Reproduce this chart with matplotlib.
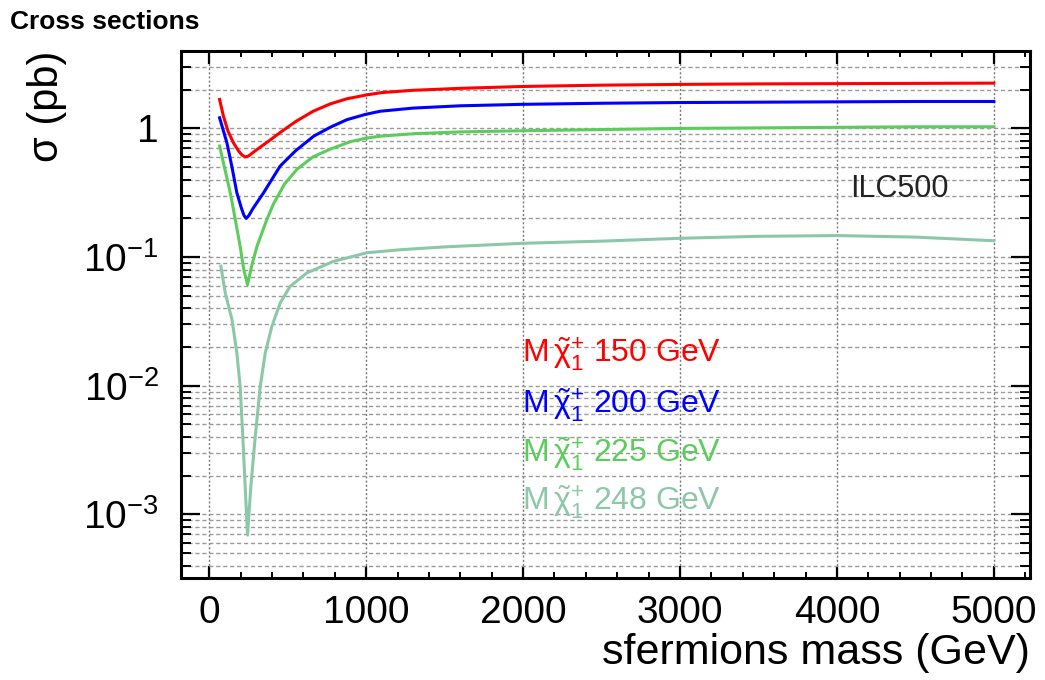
import matplotlib
matplotlib.use('Agg')
import matplotlib.pyplot as plt
from matplotlib.ticker import MultipleLocator, LogLocator, NullFormatter

plt.rcParams['font.family'] = ['Liberation Sans', 'DejaVu Sans']
plt.rcParams['mathtext.fontset'] = 'custom'
plt.rcParams['mathtext.rm'] = 'Liberation Sans'
plt.rcParams['mathtext.it'] = 'Liberation Sans:italic'
plt.rcParams['mathtext.bf'] = 'Liberation Sans:bold'

# ---- Data ----
mass_150 = [66, 90, 120, 155, 190, 210, 229, 250, 300, 380, 452, 550, 662, 770, 877,
            1000, 1100, 1300, 1600, 2000, 2500, 3000, 3500, 4000, 4500, 5000]
xsec_150 = [1.68, 1.25, 0.95, 0.77, 0.66, 0.62, 0.60, 0.61, 0.68, 0.80, 0.93, 1.13,
            1.36, 1.55, 1.70, 1.82, 1.90, 1.98, 2.05, 2.12, 2.17, 2.20, 2.22, 2.23,
            2.24, 2.25]

mass_200 = [66, 113, 145, 176, 205, 222, 236, 252, 280, 346, 452, 550, 665, 770, 877,
            1000, 1089, 1300, 1600, 2000, 2500, 3000, 3500, 4000, 4500, 5000]
xsec_200 = [1.21, 0.77, 0.50, 0.316, 0.24, 0.21, 0.20, 0.21, 0.24, 0.316, 0.51, 0.67,
            0.87, 1.02, 1.17, 1.29, 1.36, 1.44, 1.50, 1.54, 1.57, 1.59, 1.60, 1.61,
            1.62, 1.62]

mass_225 = [66, 100, 134, 166, 197, 220, 244, 270, 304, 367, 410, 480, 558, 660, 771,
            900, 1000, 1089, 1300, 1600, 2000, 2500, 3000, 3500, 4000, 4500, 5000]
xsec_225 = [0.73, 0.48, 0.316, 0.196, 0.121, 0.08, 0.061, 0.085, 0.121, 0.196, 0.26,
            0.37, 0.48, 0.60, 0.69, 0.79, 0.84, 0.87, 0.91, 0.94, 0.96, 0.98, 1.0,
            1.01, 1.02, 1.03, 1.03]

mass_248 = [74, 102, 145, 176, 197, 214, 229, 244, 265, 293, 325, 357, 399, 452, 516,
            622, 792, 1004, 1217, 1500, 2000, 2500, 3000, 3500, 4000, 4500, 5000]
xsec_248 = [0.085, 0.0526, 0.0326, 0.018, 0.0099, 0.0040, 0.00164, 0.00069, 0.00164,
            0.0040, 0.0099, 0.018, 0.0289, 0.044, 0.0593, 0.0753, 0.0927, 0.108,
            0.114, 0.12, 0.128, 0.133, 0.14, 0.145, 0.147, 0.143, 0.134]

series = [
    (mass_150, xsec_150, '150', '#ff0000'),
    (mass_200, xsec_200, '200', '#0000ff'),
    (mass_225, xsec_225, '225', '#5ccc5c'),
    (mass_248, xsec_248, '248', '#8cc8a8'),
]

# ---- Figure ----
fig = plt.figure(figsize=(10.45, 6.8), dpi=100)
ax = fig.add_axes([0.1732, 0.15, 0.8124, 0.775])
ax.set_xlim(-180, 5230)
ax.set_yscale('log')
ax.set_ylim(3.2e-4, 4.0)

for m, s, lab, col in series:
    ax.plot(m, s, color=col, lw=2.2, zorder=3, solid_joinstyle='round')

# grid: horizontal at every log tick, vertical at majors
ax.set_axisbelow(True)
ax.yaxis.set_minor_locator(LogLocator(base=10, subs=range(2, 10), numticks=20))
ax.yaxis.set_minor_formatter(NullFormatter())
ax.set_yticks([1e-3, 1e-2, 1e-1, 1])
ax.set_yticklabels([r'$10^{-3}$', r'$10^{-2}$', r'$10^{-1}$', '1'])
ax.xaxis.set_major_locator(MultipleLocator(1000))
ax.xaxis.set_minor_locator(MultipleLocator(200))

ax.grid(which='both', axis='y', color='#9a9a9a', lw=1.0, ls=(0, (3, 2)))
ax.grid(which='major', axis='x', color='#777777', lw=1.0, ls=(0, (1.5, 1.5)))

ax.tick_params(which='both', direction='in', top=True, right=True, labelsize=28)
ax.tick_params(axis='y', which='major', length=14, width=1.6, pad=16)
ax.tick_params(axis='y', which='minor', length=7, width=1.4)
ax.tick_params(axis='x', which='major', length=9, width=1.6, pad=12)
ax.tick_params(axis='x', which='minor', length=4.5, width=1.4)
for sp in ax.spines.values():
    sp.set_linewidth(2.2)

ax.set_xlabel('sfermions mass (GeV)', fontsize=31, ha='right', x=1.0, labelpad=2)
ax.set_ylabel('σ (pb)', fontsize=30, ha='right', y=1.0, labelpad=12)

# legend-like labels
ys = [0.408, 0.313, 0.220, 0.129]
for (m, s, lab, col), yy in zip(series, ys):
    ax.text(0.4017, yy, r'M$\,\tilde{\mathrm{\chi}}^{+}_{1}$ ' + lab + ' GeV',
            transform=ax.transAxes, color=col, fontsize=23, ha='left', va='baseline')

ax.text(0.788, 0.723, 'ILC500', transform=ax.transAxes, fontsize=22,
        ha='left', va='baseline', color='#222222')

fig.text(0.01, 0.968, 'Cross sections', fontsize=19, weight='bold',
         ha='left', va='center')

fig.savefig('out.png', dpi=100, facecolor='white')
